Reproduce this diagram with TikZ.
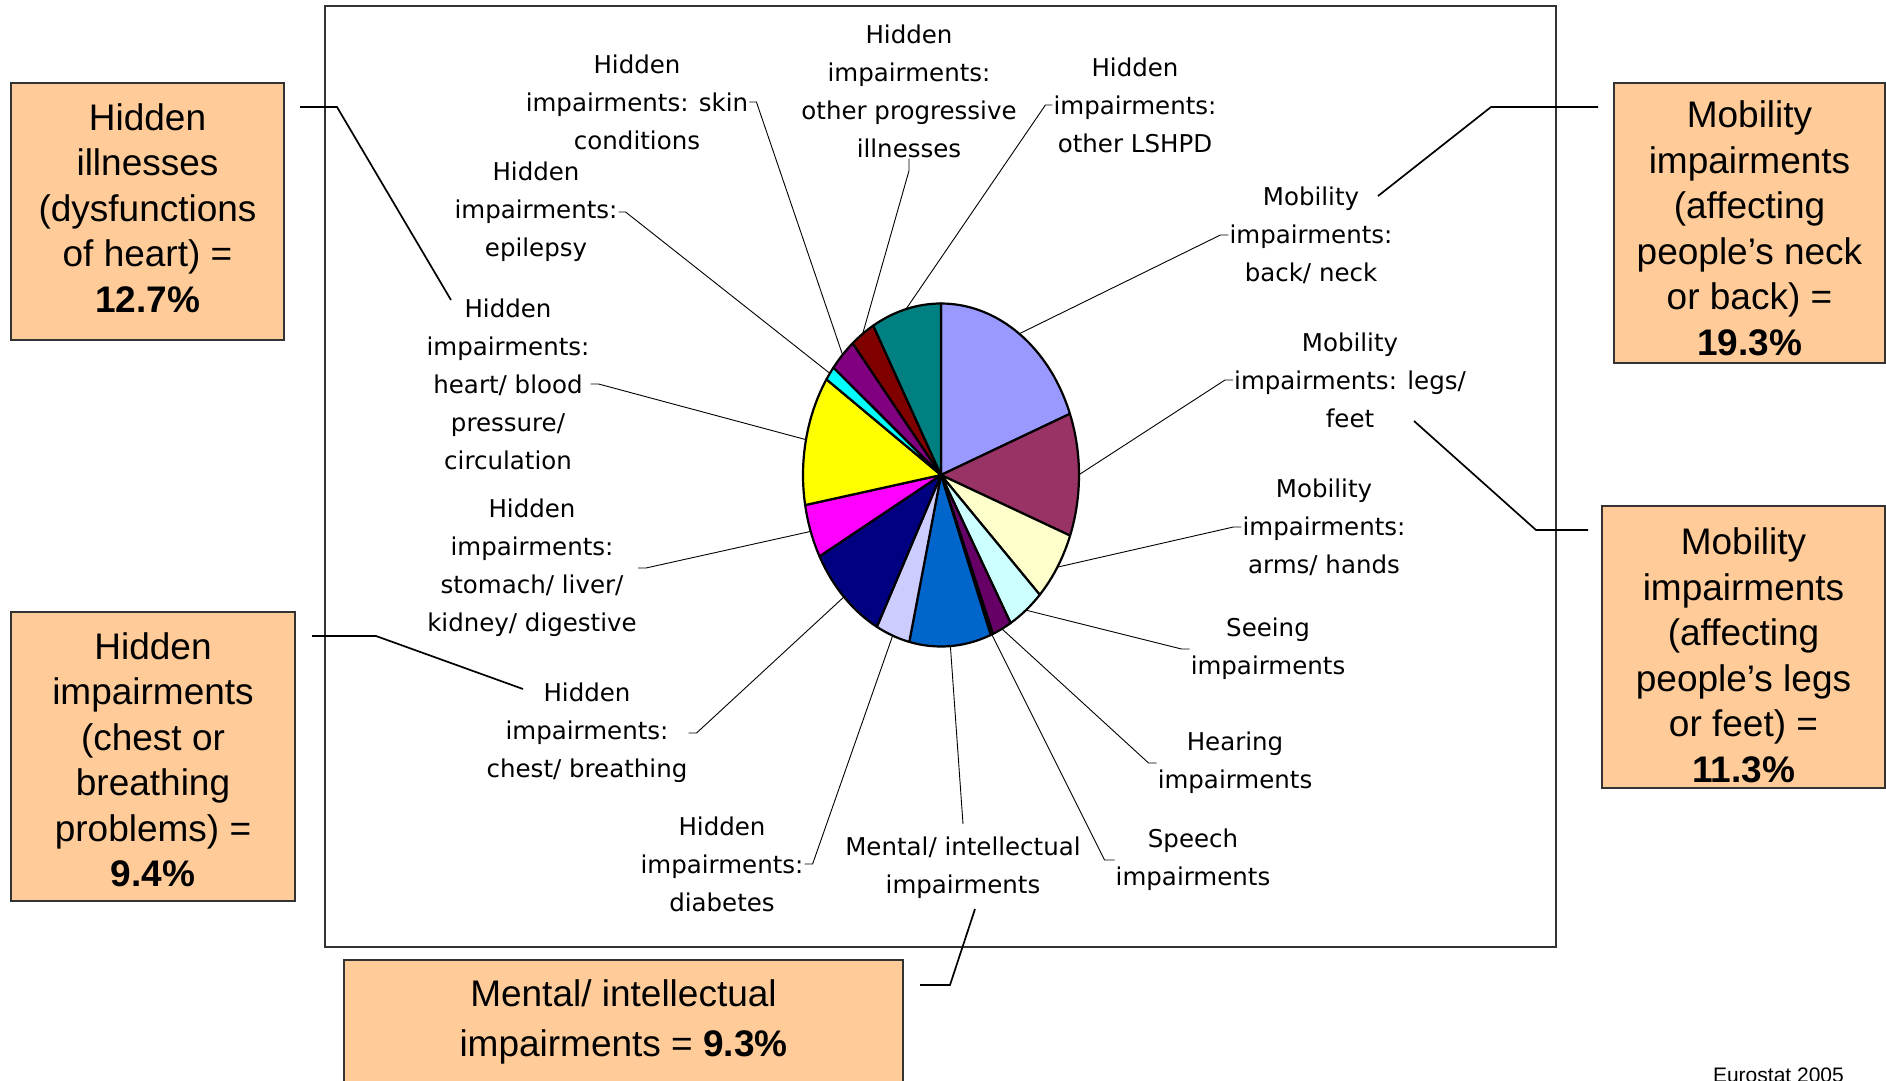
\documentclass[tikz,border=0pt]{standalone}
\usepackage{fontspec}
\setmainfont{Liberation Sans}
\newfontfamily\lblfont{DejaVu Sans}

\definecolor{cPeach}{HTML}{FFCC99}
\definecolor{cBack}{HTML}{9999FF}
\definecolor{cLegs}{HTML}{993366}
\definecolor{cArms}{HTML}{FFFFCC}
\definecolor{cSeeing}{HTML}{CCFFFF}
\definecolor{cHearing}{HTML}{660066}
\definecolor{cSpeech}{HTML}{FF8080}
\definecolor{cMental}{HTML}{0066CC}
\definecolor{cDiab}{HTML}{CCCCFF}
\definecolor{cChest}{HTML}{000080}
\definecolor{cStomach}{HTML}{FF00FF}
\definecolor{cHeart}{HTML}{FFFF00}
\definecolor{cEpil}{HTML}{00FFFF}
\definecolor{cSkin}{HTML}{800080}
\definecolor{cProg}{HTML}{800000}
\definecolor{cLshpd}{HTML}{008080}

\tikzset{
  lbl/.style={font=\lblfont\fontsize{24.5bp}{38bp}\selectfont, align=center, inner sep=1bp},
  callbox/.style={draw=black!80, line width=1.6bp, fill=cPeach, inner sep=0pt},
  boxtxt/.style={align=center, inner sep=0pt, font=\fontsize{37bp}{45.5bp}\selectfont},
  leader/.style={line width=0.9bp},
  callout/.style={line width=1.7bp},
  slice/.style={draw=black, line width=2.2bp, line join=round},
}

\begin{document}
\begin{tikzpicture}[x=1bp, y=-1bp]
\useasboundingbox (0,0) rectangle (1886,1080);
% chart area
\draw[line width=1.4bp, black!80] (325,6) rectangle (1556,947);

% pie, clockwise from the top
\begin{scope}[shift={(941,475)}, yscale=-1]
\draw[slice, fill=cBack] (0,0) -- (90:138 and 171.5) arc [start angle=90, end angle=20.9, x radius=138, y radius=171.5] -- cycle;
\draw[slice, fill=cLegs] (0,0) -- (20.9:138 and 171.5) arc [start angle=20.9, end angle=-20.7, x radius=138, y radius=171.5] -- cycle;
\draw[slice, fill=cArms] (0,0) -- (-20.7:138 and 171.5) arc [start angle=-20.7, end angle=-44.3, x radius=138, y radius=171.5] -- cycle;
\draw[slice, fill=cSeeing] (0,0) -- (-44.3:138 and 171.5) arc [start angle=-44.3, end angle=-59.7, x radius=138, y radius=171.5] -- cycle;
\draw[slice, fill=cHearing] (0,0) -- (-59.7:138 and 171.5) arc [start angle=-59.7, end angle=-67.9, x radius=138, y radius=171.5] -- cycle;
\draw[slice, fill=cSpeech] (0,0) -- (-67.9:138 and 171.5) arc [start angle=-67.9, end angle=-68.9, x radius=138, y radius=171.5] -- cycle;
\draw[slice, fill=cMental] (0,0) -- (-68.9:138 and 171.5) arc [start angle=-68.9, end angle=-103.3, x radius=138, y radius=171.5] -- cycle;
\draw[slice, fill=cDiab] (0,0) -- (-103.3:138 and 171.5) arc [start angle=-103.3, end angle=-117.7, x radius=138, y radius=171.5] -- cycle;
\draw[slice, fill=cChest] (0,0) -- (-117.7:138 and 171.5) arc [start angle=-117.7, end angle=-151.7, x radius=138, y radius=171.5] -- cycle;
\draw[slice, fill=cStomach] (0,0) -- (-151.7:138 and 171.5) arc [start angle=-151.7, end angle=-169.9, x radius=138, y radius=171.5] -- cycle;
\draw[slice, fill=cHeart] (0,0) -- (-169.9:138 and 171.5) arc [start angle=-169.9, end angle=-213.9, x radius=138, y radius=171.5] -- cycle;
\draw[slice, fill=cEpil] (0,0) -- (-213.9:138 and 171.5) arc [start angle=-213.9, end angle=-218.8, x radius=138, y radius=171.5] -- cycle;
\draw[slice, fill=cSkin] (0,0) -- (-218.8:138 and 171.5) arc [start angle=-218.8, end angle=-230.2, x radius=138, y radius=171.5] -- cycle;
\draw[slice, fill=cProg] (0,0) -- (-230.2:138 and 171.5) arc [start angle=-230.2, end angle=-240.6, x radius=138, y radius=171.5] -- cycle;
\draw[slice, fill=cLshpd] (0,0) -- (-240.6:138 and 171.5) arc [start angle=-240.6, end angle=-270, x radius=138, y radius=171.5] -- cycle;
% leader ends on the rim
\coordinate (pBack) at (55.45:138 and 171.5);
\coordinate (pLegs) at (0.1:138 and 171.5);
\coordinate (pArms) at (-32.5:138 and 171.5);
\coordinate (pSeeing) at (-52:138 and 171.5);
\coordinate (pHearing) at (-63.8:138 and 171.5);
\coordinate (pSpeech) at (-68.4:138 and 171.5);
\coordinate (pMental) at (-86.1:138 and 171.5);
\coordinate (pDiab) at (-110.5:138 and 171.5);
\coordinate (pChest) at (-134.7:138 and 171.5);
\coordinate (pStomach) at (-160.8:138 and 171.5);
\coordinate (pHeart) at (-191.9:138 and 171.5);
\coordinate (pEpil) at (-216.35:138 and 171.5);
\coordinate (pSkin) at (-224.5:138 and 171.5);
\coordinate (pProg) at (-235.4:138 and 171.5);
\coordinate (pLshpd) at (-255.3:138 and 171.5);
\end{scope}

% slice labels
\node[lbl] (lSkin) at (637,102) {Hidden\\impairments: skin\\conditions};
\node[lbl] (lProg) at (909,91) {Hidden\\impairments:\\other progressive\\illnesses};
\node[lbl] (lLshpd) at (1135,105) {Hidden\\impairments:\\other LSHPD};
\node[lbl] (lEpil) at (536,212) {Hidden\\impairments:\\epilepsy};
\node[lbl] (lHeart) at (508,384) {Hidden\\impairments:\\heart/ blood\\pressure/\\circulation};
\node[lbl] (lStomach) at (532,568) {Hidden\\impairments:\\stomach/ liver/\\kidney/ digestive};
\node[lbl] (lChest) at (587,733) {Hidden\\impairments:\\chest/ breathing};
\node[lbl] (lDiab) at (722,864) {Hidden\\impairments:\\diabetes};
\node[lbl] (lMental) at (963,868) {Mental/ intellectual\\impairments};
\node[lbl] (lSpeech) at (1193,860) {Speech\\impairments};
\node[lbl] (lHearing) at (1235,763) {Hearing\\impairments};
\node[lbl] (lSeeing) at (1268,649) {Seeing\\impairments};
\node[lbl] (lArms) at (1324,527) {Mobility\\impairments:\\arms/ hands};
\node[lbl] (lLegs) at (1350,380) {Mobility\\impairments: legs/\\feet};
\node[lbl] (lBack) at (1311,235) {Mobility\\impairments:\\back/ neck};

\draw[leader] (lSkin.east) -- ++(7,0) -- (pSkin);
\draw[leader] (lProg.south) -- ++(0,12) -- (pProg);
\draw[leader] (lLshpd.west) -- ++(-7,0) -- (pLshpd);
\draw[leader] (lEpil.east) -- ++(7,0) -- (pEpil);
\draw[leader] (lHeart.east) -- ++(8,0) -- (pHeart);
\draw[leader] (lStomach.east) -- ++(8,0) -- (pStomach);
\draw[leader] (lChest.east) -- ++(8,0) -- (pChest);
\draw[leader] (lDiab.east) -- ++(8,0) -- (pDiab);
\draw[leader] ([yshift=12bp]lMental.north) -- (pMental);
\draw[leader] (lSpeech.west) -- ++(-10,0) -- (pSpeech);
\draw[leader] (lHearing.west) -- ++(-8,0) -- (pHearing);
\draw[leader] (lSeeing.west) -- ++(-8,0) -- (pSeeing);
\draw[leader] (lArms.west) -- ++(-8,0) -- (pArms);
\draw[leader] (lLegs.west) -- ++(-8,0) -- (pLegs);
\draw[leader] (lBack.west) -- ++(-8,0) -- (pBack);

% summary boxes
\node[callbox, minimum width=273bp, minimum height=257bp] (bHeart) at (147.5,211.5) {};
\node[callbox, minimum width=284bp, minimum height=289bp] (bChest) at (153,756.5) {};
\node[callbox, minimum width=559bp, minimum height=124bp] (bMental) at (623.5,1022) {};
\node[callbox, minimum width=271bp, minimum height=280bp] (bNeck) at (1749.5,223) {};
\node[callbox, minimum width=283bp, minimum height=282bp] (bLegs) at (1743.5,647) {};
\node[boxtxt] (tHeart) at (147.5,208) {Hidden\\illnesses\\(dysfunctions\\of heart) =\\\textbf{12.7\%}};
\node[boxtxt] (tChest) at (153,760) {Hidden\\impairments\\(chest or\\breathing\\problems) =\\\textbf{9.4\%}};
\node[boxtxt, font=\fontsize{37bp}{50bp}\selectfont] (tMental) at (623.5,1022) {Mental/ intellectual\\impairments = \textbf{9.3\%}};
\node[boxtxt] (tNeck) at (1749.5,228.5) {Mobility\\impairments\\(affecting\\people’s neck\\or back) =\\\textbf{19.3\%}};
\node[boxtxt] (tLegs) at (1743.5,655.5) {Mobility\\impairments\\(affecting\\people’s legs\\or feet) =\\\textbf{11.3\%}};

\coordinate (kHeart) at (300,107);
\coordinate (kHeartEnd) at (451,300);
\coordinate (kChest) at (312,636);
\coordinate (kChestEnd) at (523,689);
\coordinate (kMental) at (920,985);
\coordinate (kMentalEnd) at (975,909);
\coordinate (kNeck) at (1598,107);
\coordinate (kNeckEnd) at (1378,196);
\coordinate (kLegs) at (1588,530);
\coordinate (kLegsEnd) at (1414,421);
\draw[callout] (kHeart) -- ++(37,0) -- (kHeartEnd);
\draw[callout] (kChest) -- ++(64,0) -- (kChestEnd);
\draw[callout] (kMental) -- ++(30,0) -- (kMentalEnd);
\draw[callout] (kNeck) -- ++(-107,0) -- (kNeckEnd);
\draw[callout] (kLegs) -- ++(-52,0) -- (kLegsEnd);

\node[font=\fontsize{21bp}{25bp}\selectfont, anchor=base east, inner sep=0pt] (src) at (1844,1082) {Eurostat 2005};
\end{tikzpicture}
\end{document}
